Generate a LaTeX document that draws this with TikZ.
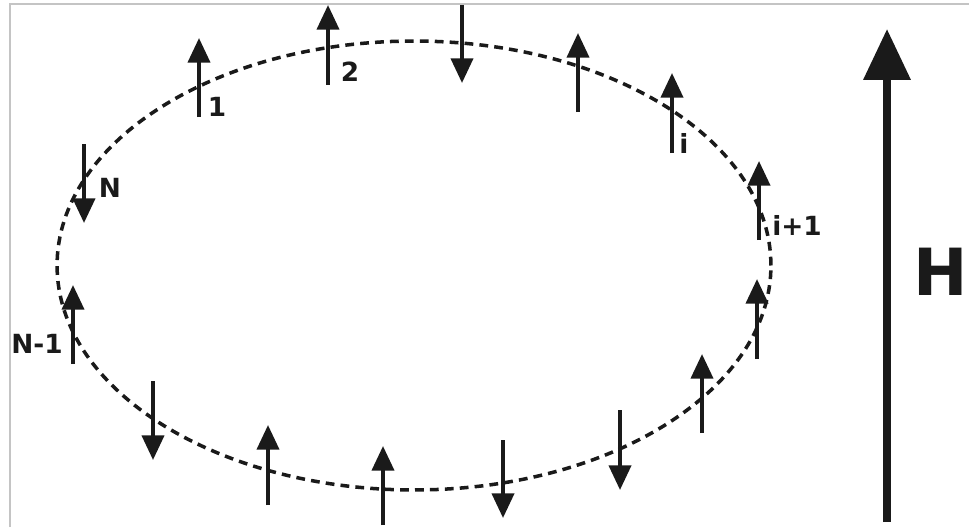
\documentclass[tikz,border=0pt]{standalone}
\usepackage{fontspec}
\setmainfont{DejaVu Sans}
\usetikzlibrary{arrows.meta}
\definecolor{ink}{HTML}{1A1A1A}
\definecolor{frame}{HTML}{C4C4C4}

\begin{document}
\begin{tikzpicture}[x=0.02cm,y=-0.02cm,
  spin/.style={ink,line width=2.2pt,-{Triangle[width=12.5pt,length=14pt]}},
  lbl/.style={text=ink,inner sep=0pt,font=\bfseries\fontsize{15}{15}\selectfont}]
  \useasboundingbox (0,0) rectangle (969,527);
  \draw[frame,line width=0.8pt] (10,527)--(10,4)--(969,4);
  % ring of spins
  \draw[ink,line width=2pt,dash pattern=on 5pt off 3.5pt]
    (414,265.5) ellipse [x radius=7.14cm,y radius=4.49cm];
  \foreach \x/\a/\b in {199/117/38,328/85/5,462/5/83,578/112/33,672/153/73,
      759/240/161,757/359/279,702/433/354,620/410/490,503/440/518,
      383/525/446,268/505/425,153/381/460,73/364/285,84/144/223}{
    \draw[spin] (\x,\a)--(\x,\b);}
  \node[lbl] (one) at (217,107){1};
  \node[lbl] (two) at (350,72){2};
  \node[lbl] (si) at (684,143){i};
  \node[lbl] (sinext) at (797,225){i+1};
  \node[lbl] (slast) at (37,344){N-1};
  \node[lbl] (sn) at (110,188){N};
  % field
  \coordinate (hbot) at (887,522);
  \coordinate (htop) at (887,29);
  \draw[ink,line width=4.5pt,-{Triangle[width=26pt,length=29pt]}] (hbot)--(htop);
  \node[lbl,anchor=east,font=\bfseries\fontsize{37}{37}\selectfont] (hlbl) at (968,272){H};
\end{tikzpicture}
\end{document}
